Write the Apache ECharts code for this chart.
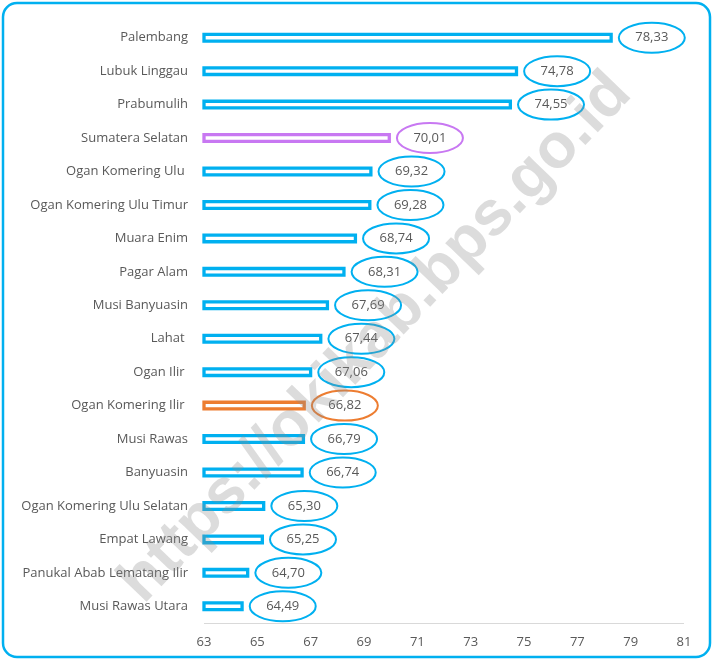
<!DOCTYPE html>
<html>
<head>
<meta charset="utf-8">
<script src="https://cdn.jsdelivr.net/npm/echarts@6/dist/echarts.min.js"></script>
<style>
  html, body { margin: 0; padding: 0; background: #ffffff; }
  #chart { width: 714px; height: 661px; }
</style>
</head>
<body>
<div id="chart"></div>
<script>
// Regencies / cities of Sumatera Selatan, top to bottom
const categories = [
  'Palembang', 'Lubuk Linggau', 'Prabumulih', 'Sumatera Selatan',
  'Ogan Komering Ulu ', 'Ogan Komering Ulu Timur', 'Muara Enim', 'Pagar Alam',
  'Musi Banyuasin', 'Lahat ', 'Ogan Ilir ', 'Ogan Komering Ilir ',
  'Musi Rawas', 'Banyuasin', 'Ogan Komering Ulu Selatan', 'Empat Lawang',
  'Panukal Abab Lematang Ilir', 'Musi Rawas Utara'
];
const values = [
  78.33, 74.78, 74.55, 70.01, 69.32, 69.28, 68.74, 68.31, 67.69,
  67.44, 67.06, 66.82, 66.79, 66.74, 65.30, 65.25, 64.70, 64.49
];
const xTicks = [63, 65, 67, 69, 71, 73, 75, 77, 79, 81];

// Highlighted rows
const provinceName = 'Sumatera Selatan';
const regencyName = 'Ogan Komering Ilir ';

const BLUE = '#00B0F0';
const PURPLE = '#C878F2';
const ORANGE = '#ED7D31';
const TEXT = '#595959';
const FONT = '"Open Sans", "Noto Sans", sans-serif';

function rowColor(name) {
  if (name === provinceName) return PURPLE;
  if (name === regencyName) return ORANGE;
  return BLUE;
}
function fmt(v) { return v.toFixed(2).replace('.', ','); }

const barData = values.map((v, i) => ({
  value: v,
  itemStyle: { color: '#ffffff', borderColor: rowColor(categories[i]), borderWidth: 3.3 }
}));
const bubbleData = values.map((v, i) => [v, i]);

const chart = echarts.init(document.getElementById('chart'), null, { renderer: 'canvas' });

chart.setOption({
  animation: false,
  backgroundColor: '#ffffff',
  grid: { left: 204, right: 30, top: 21, bottom: 38, containLabel: false },
  xAxis: {
    type: 'value',
    min: xTicks[0],
    max: xTicks[xTicks.length - 1],
    interval: 2,
    axisLine: { show: false },
    axisTick: { show: false },
    splitLine: { show: false },
    axisLabel: { color: TEXT, fontFamily: FONT, fontSize: 13, margin: 13 }
  },
  yAxis: {
    type: 'category',
    data: categories,
    inverse: true,
    axisLine: { show: false },
    axisTick: { show: false },
    axisLabel: { color: TEXT, fontFamily: FONT, fontSize: 13, margin: 16 }
  },
  graphic: [
    {
      type: 'rect',
      shape: { x: 3, y: 3, width: 707, height: 654, r: 14 },
      style: { fill: 'none', stroke: BLUE, lineWidth: 2.5 },
      z: 0
    },
    {
      type: 'line',
      shape: { x1: 204, y1: 623.5, x2: 684, y2: 623.5 },
      style: { stroke: '#d9d9d9', lineWidth: 1 },
      z: 1
    },
    {
      type: 'text',
      x: 376, y: 338,
      rotation: Math.PI / 4 + 0.02,
      style: {
        text: 'https://okikab.bps.go.id',
        font: 'bold 63px "Liberation Sans", Arial, sans-serif',
        fill: 'rgba(140,140,140,0.3)',
        textAlign: 'center',
        textVerticalAlign: 'middle'
      },
      z: 100
    }
  ],
  series: [
    {
      type: 'bar',
      data: barData,
      barWidth: 10,
      clip: true,
      silent: true
    },
    {
      type: 'custom',
      data: bubbleData,
      silent: true,
      clip: false,
      renderItem: function (params, api) {
        const v = api.value(0);
        const idx = api.value(1);
        const p = api.coord([v, idx]);
        const color = rowColor(categories[idx]);
        const cx = p[0] + 39;
        return {
          type: 'group',
          children: [
            {
              type: 'ellipse',
              shape: { cx: cx, cy: p[1], rx: 33, ry: 15 },
              style: { fill: 'none', stroke: color, lineWidth: 2 }
            },
            {
              type: 'text',
              x: cx, y: p[1],
              style: {
                text: fmt(v),
                fill: TEXT,
                font: '13px ' + FONT,
                textAlign: 'center',
                textVerticalAlign: 'middle'
              }
            }
          ]
        };
      }
    }
  ]
});
</script>
</body>
</html>
